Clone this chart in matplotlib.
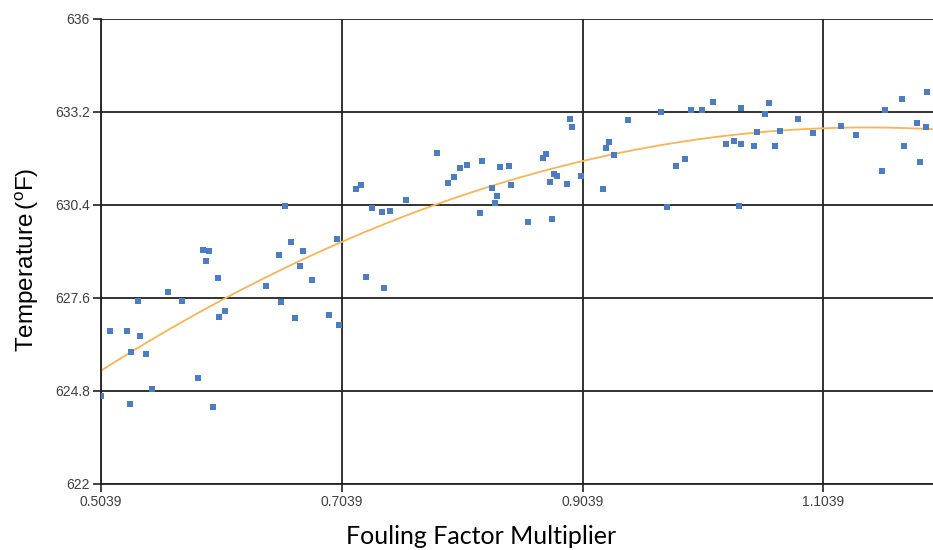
import numpy as np
import matplotlib
matplotlib.use("Agg")
import matplotlib.pyplot as plt

# Data
fouling = [0.5039, 0.5111, 0.5253, 0.5289, 0.5347, 0.5364, 0.5414, 0.5278, 0.5464, 0.5597,
           0.5714, 0.5845, 0.5972, 0.5886, 0.5933, 0.5911, 0.6009, 0.6020, 0.6070, 0.6412,
           0.6514, 0.6570, 0.6534, 0.6620, 0.6714, 0.6695, 0.6651, 0.6789, 0.6932, 0.7020,
           0.7003, 0.7241, 0.7391, 0.7161, 0.7202, 0.7294, 0.7377, 0.7441, 0.7576, 0.7826,
           0.7923, 0.7970, 0.8017, 0.8081, 0.8202, 0.8186, 0.8288, 0.8327, 0.8308, 0.8352,
           0.8424, 0.8443, 0.8582, 0.8712, 0.8734, 0.8770, 0.8798, 0.8823, 0.8787, 0.8906,
           0.8931, 0.8950, 0.9030, 0.9205, 0.9230, 0.9260, 0.9304, 0.9420, 0.9694, 0.9743,
           0.9812, 0.9892, 0.9939, 1.0033, 1.0119, 1.0227, 1.0296, 1.0359, 1.0356, 1.0340,
           1.0467, 1.0484, 1.0555, 1.0591, 1.0641, 1.0680, 1.0831, 1.0956, 1.1185, 1.1312,
           1.1530, 1.1550, 1.1693, 1.1713, 1.1818, 1.1843, 1.1895, 1.1900]
temperature = [624.64, 626.61, 626.61, 625.98, 627.51, 626.47, 625.90, 624.40, 624.86, 627.78,
               627.52, 625.18, 624.33, 629.04, 629.01, 628.70, 628.20, 627.03, 627.22, 627.97,
               628.88, 630.36, 627.47, 629.30, 629.03, 628.57, 627.00, 628.13, 627.10, 626.79,
               629.37, 628.22, 627.91, 630.87, 631.00, 630.30, 630.19, 630.22, 630.55, 631.96,
               631.06, 631.23, 631.52, 631.61, 631.71, 630.17, 630.90, 630.67, 630.45, 631.55,
               631.57, 631.00, 629.90, 631.83, 631.95, 631.10, 631.33, 631.26, 629.98, 631.04,
               633.00, 632.75, 631.26, 630.87, 632.11, 632.30, 631.91, 632.95, 633.20, 630.33,
               631.58, 631.77, 633.27, 633.27, 633.49, 632.23, 632.33, 632.23, 633.33, 630.38,
               632.18, 632.59, 633.15, 633.48, 632.18, 632.63, 633.00, 632.56, 632.79, 632.50,
               631.42, 633.27, 633.60, 632.17, 632.88, 631.70, 632.76, 633.81]

x_ticks = [0.5039, 0.7039, 0.9039, 1.1039]
y_ticks = [622, 624.8, 627.6, 630.4, 633.2, 636]
x_tick_labels = ["0.5039", "0.7039", "0.9039", "1.1039"]
y_tick_labels = ["622", "624.8", "627.6", "630.4", "633.2", "636"]

fig = plt.figure(figsize=(9.33, 5.5), dpi=100)
ax = fig.add_axes([101/933, 1-484/550, 1-101/933, (484-19)/550])

xmin, xmax = 0.5039, 1.195
ax.set_xlim(xmin, xmax)
ax.set_ylim(622, 636)

# grid
for xt in x_ticks:
    ax.axvline(xt, color='#222222', lw=1.3, zorder=1)
for yt in y_ticks:
    ax.axhline(yt, color='#222222', lw=1.3, zorder=1)

# polynomial trendline (order 2) from data
coef = np.polyfit(fouling, temperature, 2)
xs = np.linspace(xmin, xmax, 300)
ax.plot(xs, np.polyval(coef, xs), color='#F8B552', lw=1.3, zorder=2)

ax.plot(fouling, temperature, linestyle='none', marker='s', markersize=4.3,
        color='#4A7DC4', markeredgewidth=0, zorder=3)

ax.set_xticks(x_ticks)
ax.set_xticklabels(x_tick_labels)
ax.set_yticks(y_ticks)
ax.set_yticklabels(y_tick_labels)
ax.tick_params(axis='both', direction='out', length=6, width=1.2, color='#222222',
               labelsize=10, labelcolor='#404040', pad=2)
for lab in ax.get_xticklabels() + ax.get_yticklabels():
    lab.set_fontfamily('Liberation Sans')

for side in ['top', 'right']:
    ax.spines[side].set_visible(False)
for side in ['left', 'bottom']:
    ax.spines[side].set_color('#222222')
    ax.spines[side].set_linewidth(1.3)

fig.text(27/933, 1-260/550, 'Temperature$\\mathregular{\\,(^{o}}$F)', rotation=90,
         ha='center', va='center', fontsize=17.5, family='Liberation Sans', color='black')
fig.text(481/933, 1-536/550, 'Fouling Factor Multiplier', ha='center', va='center',
         fontsize=18, family='Lato', color='black')

fig.savefig('out.png', dpi=100)
